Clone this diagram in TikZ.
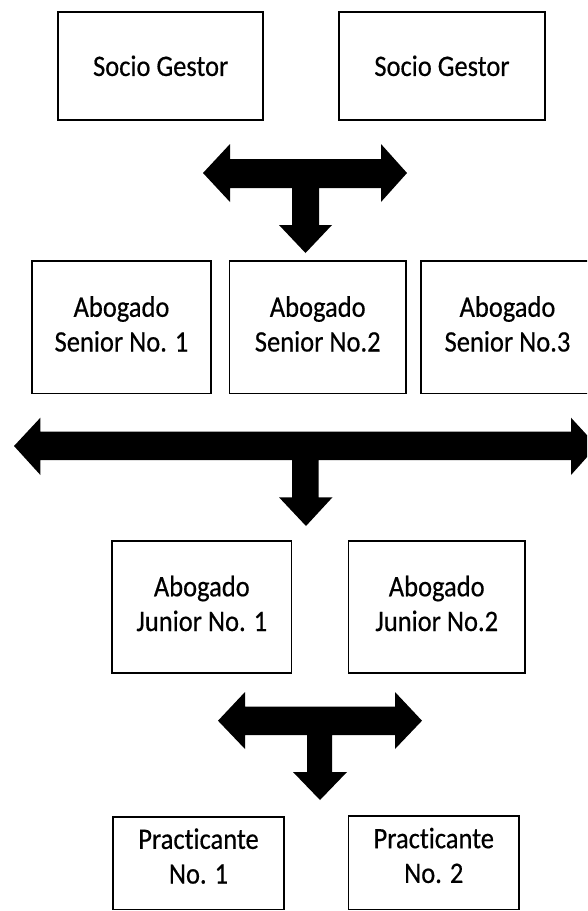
\documentclass[tikz,border=0pt]{standalone}
\usepackage{fontspec}
\setmainfont[FakeBold=0.5,Ligatures=NoCommon]{Carlito}
\newcommand\boxtext[1]{\scalebox{1}[1.12]{\fontsize{26.5}{31}\selectfont\begin{tabular}{@{}c@{}}#1\end{tabular}}}
\begin{document}
\begin{tikzpicture}[x=1pt,y=-1pt,
  box/.style={draw=black,line width=1.6pt,fill=white,align=center,inner sep=0pt},
  label/.style={inner sep=0pt},
  blockarrow/.style={fill=black}]
\clip (0,0) rectangle (587,911);
\fill[white] (0,0) rectangle (587,911);
% level 1
\node[box,minimum width=205pt,minimum height=108.5pt] (sg1) at (160.7,66) {};
\node[box,minimum width=206pt,minimum height=108.5pt] (sg2) at (442,66) {};
\node[label] (sg1t) at ([yshift=-3pt]sg1.center) {\boxtext{Socio Gestor}};
\node[label] (sg2t) at ([yshift=-3pt]sg2.center) {\boxtext{Socio Gestor}};
% arrow 1
\fill[blockarrow] (203,173) -- (230,144) -- (230,159) -- (381,159) -- (381,144) -- (407,173)
  -- (381,202) -- (381,188) -- (319,188) -- (319,225) -- (332,225) -- (305.5,253)
  -- (279,225) -- (292,225) -- (292,188) -- (230,188) -- (230,202) -- cycle;
% level 2
\node[box,minimum width=179pt,minimum height=132.3pt] (s1) at (121.5,327.2) {\boxtext{Abogado\\Senior No. 1}};
\node[box,minimum width=176.5pt,minimum height=132.3pt] (s2) at (317.75,327.2) {\boxtext{Abogado\\Senior No.2}};
\node[box,minimum width=173pt,minimum height=132.3pt] (s3) at (507.5,327.2) {\boxtext{Abogado\\Senior No.3}};
% arrow 2
\fill[blockarrow] (14,446) -- (40.4,417.7) -- (40.4,431.7) -- (571,431.7) -- (571,417.7) -- (597,446)
  -- (571,475) -- (571,460) -- (318.6,460) -- (318.6,497.3) -- (332.5,497.3) -- (306,526)
  -- (279,497.3) -- (292,497.3) -- (292,460) -- (40.4,460) -- (40.4,475) -- cycle;
% level 3
\node[box,minimum width=179.6pt,minimum height=132pt] (j1) at (201.8,606.7) {\boxtext{Abogado\\Junior No. 1}};
\node[box,minimum width=176.5pt,minimum height=132pt] (j2) at (436.75,606.7) {\boxtext{Abogado\\Junior No.2}};
% arrow 3
\fill[blockarrow] (218,720.7) -- (245,692) -- (245,706.7) -- (395,706.7) -- (395,692) -- (422,720.7)
  -- (395,749) -- (395,735) -- (332,735) -- (332,772) -- (347,772) -- (320,800)
  -- (293,772) -- (307,772) -- (307,735) -- (245,735) -- (245,749) -- cycle;
% level 4
\node[box,minimum width=171pt,minimum height=92.5pt] (p1) at (198.5,863.25) {};
\node[box,minimum width=170.5pt,minimum height=93.8pt] (p2) at (433.75,862.6) {};
\node[label] (p1t) at ([yshift=4pt]p1.center) {\boxtext{Practicante\\No. 1}};
\node[label] (p2t) at ([yshift=4pt]p2.center) {\boxtext{Practicante\\No. 2}};
\end{tikzpicture}
\end{document}
